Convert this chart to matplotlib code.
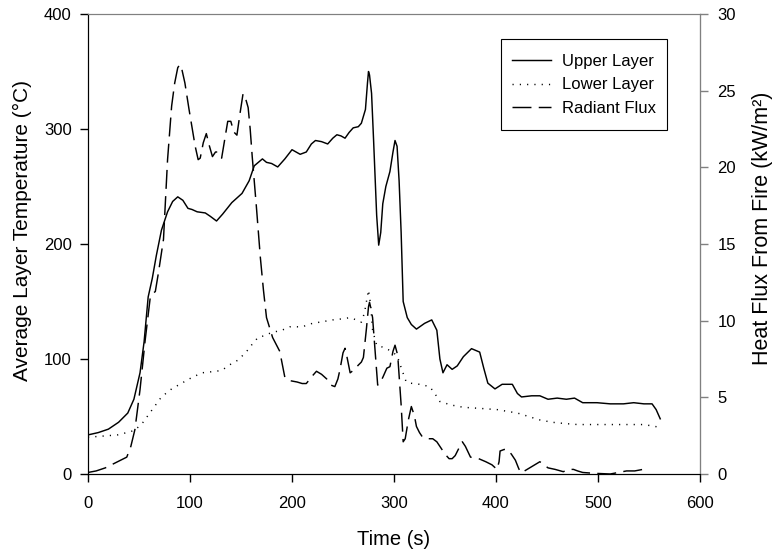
import matplotlib
matplotlib.use("Agg")
from matplotlib import pyplot as plt
from matplotlib.lines import Line2D
from matplotlib.patches import Rectangle

plt.rcParams['font.family'] = ['Liberation Sans', 'DejaVu Sans']

# Upper layer temperature (degC)
upper_t = [0, 10, 20, 30, 39, 45, 51, 55, 59, 63, 67, 72, 78, 83, 88, 93, 98, 102, 107, 115,
           120, 126, 132, 141, 151, 158, 163, 167, 171, 175, 180, 186, 193, 200, 208, 214, 219,
           223, 229, 235, 240, 244, 248, 252, 256, 260, 265, 268, 272, 274, 275, 276, 278, 280,
           283, 285, 287, 289, 292, 296, 299, 301, 303, 305, 307, 309, 313, 317, 322, 330, 337,
           342, 345, 348, 352, 357, 362, 368, 376, 384, 388, 392, 399, 406, 416, 421, 425, 435,
           443, 451, 460, 469, 477, 485, 499, 512, 525, 535, 545, 553, 557, 561]
upper_T = [34, 36, 39, 45, 53, 65, 88, 115, 154, 170, 190, 212, 228, 237, 241, 238, 231, 230, 228, 227,
           224, 220, 226, 236, 244, 255, 268, 271, 274, 271, 270, 267, 274, 282, 278, 280, 287,
           290, 289, 287, 292, 295, 294, 292, 297, 301, 302, 305, 317, 340, 350, 347, 331, 290,
           225, 199, 210, 235, 250, 263, 280, 290, 285, 255, 210, 150, 136, 130, 126, 131, 134,
           125, 100, 88, 95, 91, 94, 102, 109, 106, 92, 79, 74, 78, 78, 70, 67, 68,
           68, 65, 66, 65, 66, 62, 62, 61, 61, 62, 61, 61, 56, 48]

# Lower layer temperature (degC)
lower_t = [0, 15, 29, 38, 46, 54, 63, 72, 82, 92, 102, 112, 122, 131, 139, 147, 155, 162, 167, 172,
           180, 190, 198, 210, 220, 227, 240, 250, 257, 263, 268, 271, 273, 275, 277, 279, 283, 290,
           297, 303, 308, 312, 316, 325, 335, 340, 345, 356, 368, 385, 401, 421, 432, 443, 455, 466,
           480, 499, 520, 544, 552, 558]
lower_T = [32, 33, 34, 36, 38, 45, 56, 67, 74, 79, 84, 88, 89, 90, 95, 99, 106, 114, 119, 120,
           123, 125, 128, 128, 131, 132, 134, 135, 136, 134, 132, 140, 150, 160, 148, 125, 112, 110,
           107, 103, 90, 80, 79, 78, 76, 70, 63, 60, 58, 57, 56, 53, 50, 47, 45, 44,
           43, 43, 43, 43, 42, 41]

# Radiant heat flux (kW/m2)
flux_t = [0, 8, 17, 23, 29, 35, 38, 42, 46, 51, 56, 61, 64, 66, 69, 74, 78, 82, 85, 88, 90, 92, 95,
          99, 102, 105, 108, 110, 113, 116, 119, 122, 125, 127, 131, 134, 137, 140, 143, 146, 149,
          152, 154, 157, 159, 161, 165, 169, 172, 175, 181, 188, 193, 197, 205, 210, 214, 220, 224,
          229, 234, 238, 242, 245, 247, 250, 252, 254, 257, 261, 265, 268, 270, 273, 275, 276, 277,
          279, 282, 284, 286, 289, 293, 296, 299, 301, 303, 304, 307, 309, 311, 314, 317, 320, 322,
          325, 328, 333, 338, 342, 345, 350, 354, 357, 360, 363, 367, 370, 375, 383, 390, 396, 401,
          403, 404, 408, 411, 415, 419, 422, 424, 428, 433, 438, 443, 447, 451, 458, 466, 471, 476,
          480, 485, 495, 512, 520, 528, 536, 544]
flux_q = [0.1, 0.2, 0.4, 0.6, 0.8, 1.0, 1.1, 1.8, 2.9, 5.5, 8.7, 11.5, 11.8, 11.9, 13.1, 15.3, 20.5,
          24.0, 25.5, 26.5, 26.7, 26.4, 25.5, 23.8, 22.6, 21.4, 20.5, 20.6, 21.6, 22.2, 21.4, 20.7,
          21.0, 21.0, 20.6, 21.8, 23.0, 23.0, 22.3, 22.1, 23.5, 24.8, 24.6, 23.9, 22.5, 20.7, 17.5,
          14.1, 12.0, 10.2, 8.9, 8.0, 6.3, 6.1, 6.0, 5.9, 5.9, 6.4, 6.7, 6.5, 6.2, 5.8, 5.7, 6.2,
          6.8, 7.9, 8.2, 7.6, 6.6, 6.8, 7.1, 7.3, 7.6, 9.5, 10.9, 11.2, 10.9, 10.2, 7.6, 5.8, 5.9,
          6.3, 6.9, 7.0, 8.0, 8.4, 7.9, 7.4, 4.5, 2.1, 2.3, 3.5, 4.4, 3.8, 3.1, 2.7, 2.4, 2.3, 2.3,
          2.1, 1.8, 1.3, 1.0, 1.0, 1.2, 1.6, 2.1, 1.8, 1.1, 1.0, 0.8, 0.6, 0.3, 0.8, 1.5, 1.6, 1.6,
          1.3, 0.9, 0.4, 0.1, 0.2, 0.4, 0.6, 0.8, 0.6, 0.4, 0.3, 0.15, 0.3, 0.3, 0.2, 0.1, 0.05,
          0.0, 0.1, 0.2, 0.2, 0.3]

x_ticks = [0, 100, 200, 300, 400, 500, 600]
left_ticks = [0, 100, 200, 300, 400]
right_ticks = [0, 5, 10, 15, 20, 25, 30]
labels = ['Upper Layer', 'Lower Layer', 'Radiant Flux']

W, H = 778, 554
fig = plt.figure(figsize=(W / 100, H / 100), dpi=100)
ax = fig.add_axes([88 / W, 1 - 474 / H, 612 / W, 460 / H])
ax2 = ax.twinx()

dash = (0, (13, 5))
dots = (0, (0.8, 4.2))
ax.plot(upper_t, upper_T, color='black', lw=1.05, solid_joinstyle='round')
ax.plot(lower_t, lower_T, color='black', lw=1.05, linestyle=dots)
ax2.plot(flux_t, flux_q, color='black', lw=1.05, linestyle=dash)

ax.set_xlim(0, 600)
ax.set_ylim(0, 400)
ax2.set_ylim(0, 30)
ax.set_xticks(x_ticks)
ax.set_yticks(left_ticks)
ax2.set_yticks(right_ticks)

ax.tick_params(axis='x', direction='out', length=6, width=1, labelsize=12, pad=10)
ax.tick_params(axis='y', direction='out', length=6, width=1, labelsize=12, pad=5.8)
ax2.tick_params(axis='y', direction='out', length=6, width=1, labelsize=12, pad=6.5,
                color='#808080')
ax.spines['top'].set_color('#808080')
ax2.spines['top'].set_color('#808080')
ax2.spines['right'].set_color('#808080')

ax.set_xlabel('Time (s)', fontsize=14.5)
ax.xaxis.set_label_coords(0.5, (474 - 530) / 460)
ax.set_ylabel('Average Layer Temperature (\u00b0C)', fontsize=15)
ax.yaxis.set_label_coords((32 - 88) / 612, 0.53)
ax2.set_ylabel('Heat Flux From Fire (kW/m\u00b2)', fontsize=15.5)
ax2.yaxis.set_label_coords((752 - 88) / 612, 0.535)

# legend box drawn separately so its padding matches the original
fig.patches.append(Rectangle((501 / W, 1 - 130 / H), 166 / W, 91 / H, transform=fig.transFigure,
                             fill=False, edgecolor='black', lw=0.8))
handles = [Line2D([], [], color='black', lw=1.05),
           Line2D([], [], color='black', lw=1.05, linestyle=dots),
           Line2D([], [], color='black', lw=1.05, linestyle=dash)]
ax2.legend(handles, labels, loc='upper left', bbox_to_anchor=(512 / W, 1 - 54 / H),
           bbox_transform=fig.transFigure, fontsize=12, frameon=False, borderpad=0,
           handlelength=2.33, handletextpad=0.66, labelspacing=0.5, borderaxespad=0)

fig.savefig('out.png', dpi=100)
